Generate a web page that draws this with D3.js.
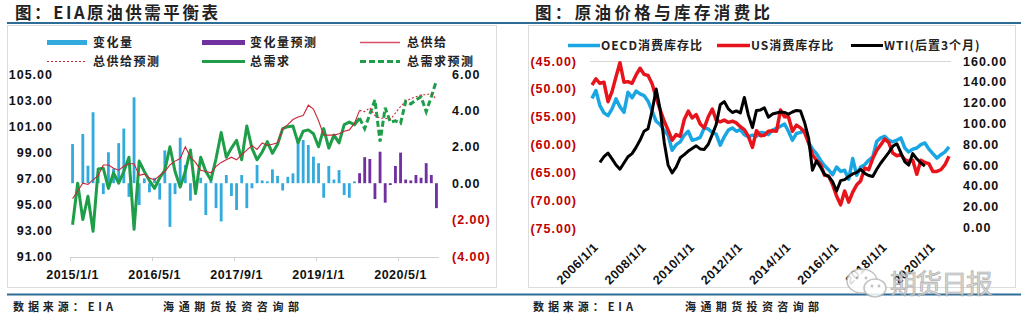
<!DOCTYPE html>
<html><head><meta charset="utf-8">
<script src="https://cdn.jsdelivr.net/npm/d3@7"></script>
<style>body{margin:0;background:#fff}svg{display:block}</style>
</head><body><svg id="c" width="1026" height="329"></svg>
<script>
// ---------- LEFT CHART DATA ----------
const months = [
"2015-01","2015-02","2015-03","2015-04","2015-05","2015-06","2015-07","2015-08","2015-09","2015-10","2015-11","2015-12",
"2016-01","2016-02","2016-03","2016-04","2016-05","2016-06","2016-07","2016-08","2016-09","2016-10","2016-11","2016-12",
"2017-01","2017-02","2017-03","2017-04","2017-05","2017-06","2017-07","2017-08","2017-09","2017-10","2017-11","2017-12",
"2018-01","2018-02","2018-03","2018-04","2018-05","2018-06","2018-07","2018-08","2018-09","2018-10","2018-11","2018-12",
"2019-01","2019-02","2019-03","2019-04","2019-05","2019-06","2019-07","2019-08","2019-09","2019-10","2019-11","2019-12",
"2020-01","2020-02","2020-03","2020-04","2020-05","2020-06","2020-07","2020-08","2020-09","2020-10","2020-11","2020-12"];
const forecastFrom = "2019-09";
const leftTickMonths = ["2015-01","2016-05","2017-09","2019-01","2020-05"];
const leftTickLabels = ["2015/1/1","2016/5/1","2017/9/1","2019/1/1","2020/5/1"];
const change = [
2.15,-0.4,2.7,0.96,3.9,0.5,-0.6,1.7,0.8,2.2,3.0,-0.75,
4.72,-1.2,0.26,-0.5,0.3,-0.9,1.8,-2.4,-0.6,2.5,1.0,-0.96,
-0.4,0.3,-1.75,0.2,-1.37,-2.1,0.45,-0.7,-1.47,0.45,-1.37,-0.28,
1.0,0.15,0.1,0.76,0.4,-0.4,0.35,0.54,2.28,2.37,2.1,1.46,
1.1,-0.8,0.95,0.2,0.72,-0.65,-0.8,0.1,0.55,1.43,1.33,-0.87,
1.73,-1.07,-0.1,0.95,1.68,0.2,0.15,0.45,0.3,1.1,0.45,-1.37];
const supply = [
95.4,96.0,96.6,96.5,96.85,97.2,98.0,98.0,97.75,97.6,97.9,98.1,
98.1,97.2,97.3,97.0,96.85,97.2,97.5,98.0,98.3,98.5,99.4,98.6,
98.2,97.6,97.5,97.4,97.9,98.2,98.4,98.6,98.4,98.8,99.15,99.5,
99.2,99.7,99.5,99.6,99.7,100.8,101.1,101.5,101.7,101.8,102.6,102.3,
101.4,100.3,100.3,100.3,100.4,100.6,100.7,101.2,102.2,102.1,102.4,101.8,
101.6,101.6,101.5,102.0,102.5,102.9,103.1,103.25,103.4,103.4,103.5,103.05];
const demand = [
93.4,96.6,93.8,95.6,92.9,97.7,97.75,96.2,97.4,96.6,97.5,98.6,
93.05,98.3,97.5,96.8,96.2,97.0,97.6,99.4,97.5,96.3,97.5,99.15,
95.8,98.6,97.5,96.85,98.5,100.5,98.6,99.3,99.9,98.4,101.0,99.3,
98.4,99.0,99.8,98.9,99.6,100.8,100.95,101.0,99.7,100.6,100.7,100.4,
99.4,100.8,99.3,100.3,99.7,101.1,101.3,101.1,101.6,100.8,101.9,103.0,
99.8,102.4,101.3,101.4,101.2,102.9,102.7,103.0,103.25,102.1,103.25,104.5];
const leftAxisTicks = [91,93,95,97,99,101,103,105];
const rightAxisTicks = [-4,-2,0,2,4,6];

// ---------- RIGHT CHART DATA ----------
const rDates = [
"2006-01","2006-03","2006-05","2006-07","2006-09","2006-11",
"2007-01","2007-03","2007-05","2007-07","2007-09","2007-11",
"2008-01","2008-03","2008-05","2008-07","2008-09","2008-11",
"2009-01","2009-03","2009-05","2009-07","2009-09","2009-11",
"2010-01","2010-03","2010-05","2010-07","2010-09","2010-11",
"2011-01","2011-03","2011-05","2011-07","2011-09","2011-11",
"2012-01","2012-03","2012-05","2012-07","2012-09","2012-11",
"2013-01","2013-03","2013-05","2013-07","2013-09","2013-11",
"2014-01","2014-03","2014-05","2014-07","2014-09","2014-11",
"2015-01","2015-03","2015-05","2015-07","2015-09","2015-11",
"2016-01","2016-03","2016-05","2016-07","2016-09","2016-11",
"2017-01","2017-03","2017-05","2017-07","2017-09","2017-11",
"2018-01","2018-03","2018-05","2018-07","2018-09","2018-11",
"2019-01","2019-03","2019-05","2019-07","2019-09","2019-11",
"2020-01","2020-03","2020-05","2020-07","2020-09","2020-11"];
const oecd = [
-51.7,-50.3,-53.0,-54.3,-54.8,-53.6,
-51.8,-53.2,-54.2,-50.6,-51.6,-50.4,
-50.9,-51.2,-52.2,-54.0,-55.8,-56.4,
-57.5,-58.3,-61.0,-60.0,-59.5,-58.3,
-57.6,-59.2,-59.0,-58.7,-57.0,-57.2,
-57.8,-58.1,-60.1,-58.6,-57.4,-57.0,
-57.6,-57.3,-58.2,-58.6,-58.3,-58.5,
-57.8,-57.9,-58.2,-57.4,-57.1,-56.7,
-56.3,-57.6,-59.2,-58.0,-57.8,-57.4,
-59.6,-60.8,-61.6,-62.8,-63.8,-64.5,
-65.4,-64.0,-64.8,-64.6,-66.2,-62.5,
-65.5,-64.0,-63.6,-62.8,-62.2,-59.4,
-58.8,-58.5,-59.2,-59.5,-59.2,-58.8,
-60.6,-61.3,-60.8,-60.6,-60.0,-59.7,
-60.8,-61.6,-62.4,-61.8,-61.3,-60.4];
const us = [
-49.3,-48.2,-49.0,-48.8,-52.3,-50.5,
-47.8,-45.3,-48.8,-48.7,-49.0,-47.5,
-46.3,-47.4,-47.6,-49.1,-51.6,-53.8,
-55.8,-57.4,-59.2,-58.2,-58.5,-55.5,
-54.0,-55.2,-54.6,-56.3,-57.0,-55.0,
-53.6,-55.6,-55.9,-55.6,-56.0,-55.8,
-56.1,-56.8,-57.3,-58.5,-60.5,-57.5,
-58.4,-58.3,-57.6,-57.5,-57.6,-53.8,
-55.0,-55.0,-57.6,-56.5,-57.0,-57.8,
-59.7,-61.8,-62.8,-63.5,-65.5,-65.6,
-67.2,-69.2,-70.8,-68.3,-70.3,-68.5,
-67.2,-66.5,-64.2,-64.5,-62.5,-61.0,
-60.0,-59.0,-59.6,-61.5,-62.0,-61.8,
-62.7,-63.0,-62.8,-65.3,-62.8,-63.2,
-63.4,-64.8,-64.8,-64.5,-63.6,-62.1];
const wti = [
null,null,62.5,68,71.5,66,
60,56,62,68,71,77,
84,92.5,95,112,133,113,
82,60,52.5,58,67,70,
73.5,76,78.5,75.5,75,80,
89.5,99,118,121,114,110.5,
112,110,125,108,96,112.5,
113,115,106,109,110,111,
110.5,109,111,112.5,112,101,
86,55,64,58,51,49,
44,35,45,46,49,51.5,
53,56,52,50,49,56,
62,67,72,78,80.5,72,
63,60,71,66,62,59,
null,null,null,null,null,null];
const rLeftTicks = [-75,-70,-65,-60,-55,-50,-45];
const rRightTicks = [0,20,40,60,80,100,120,140,160];
const rXTicks = ["2006-01","2008-01","2010-01","2012-01","2014-01","2016-01","2018-01","2020-01"];

// ---------- DRAW ----------
const svg = d3.select("#c");
const CJK = "'Noto Sans CJK SC','Noto Sans',sans-serif";
const NUM = "'Liberation Sans',Arial,sans-serif";
const RED = "#C00000";
svg.append("rect").attr("width",1026).attr("height",329).attr("fill","#fff");

// frames
svg.append("rect").attr("x",7.5).attr("y",25.5).attr("width",489).attr("height",262)
  .attr("fill","#fff").attr("stroke","#DCDCDC");
svg.append("rect").attr("x",528.5).attr("y",25.5).attr("width",487).attr("height",262)
  .attr("fill","#fff").attr("stroke","#DCDCDC");
// rules
const ruleC = "#2E6C98";
svg.append("line").attr("x1",7).attr("x2",1021).attr("y1",23).attr("y2",23).attr("stroke",ruleC).attr("stroke-width",2.2);
svg.append("line").attr("x1",7).attr("x2",1021).attr("y1",294.5).attr("y2",294.5).attr("stroke",ruleC).attr("stroke-width",2.2);

// titles
svg.append("text").attr("x",15).attr("y",19).attr("font-family",CJK).attr("font-weight","bold")
  .attr("font-size",16.5).attr("fill","#222").attr("textLength",203).attr("lengthAdjust","spacing")
  .text("图：EIA原油供需平衡表");
svg.append("text").attr("x",535).attr("y",19).attr("font-family",CJK).attr("font-weight","bold")
  .attr("font-size",16.5).attr("fill","#222").attr("textLength",235).attr("lengthAdjust","spacing")
  .text("图：原油价格与库存消费比");
// footers
[[13,100,"数据来源：EIA"],[163,136,"海通期货投资咨询部"],[533,100,"数据来源：EIA"],[685,134,"海通期货投资咨询部"]]
 .forEach(([x,w,t])=>{
  svg.append("text").attr("x",x).attr("y",310.5).attr("font-family",CJK).attr("font-weight","bold")
   .attr("font-size",11).attr("fill","#222").attr("textLength",w).attr("lengthAdjust","spacing").text(t);
 });

// ===== LEFT CHART =====
const xL = d3.scaleBand().domain(months).range([70,439]).padding(0);
const yL = d3.scaleLinear().domain([91,105]).range([256,74]);
const yR = d3.scaleLinear().domain([-4,6]).range([256,74]);
const cx = m => xL(m) + xL.bandwidth()/2;
const fIdx = months.indexOf(forecastFrom);

// x axis line + ticks
svg.append("line").attr("x1",70).attr("x2",439).attr("y1",257.5).attr("y2",257.5).attr("stroke","#D0D0D0");
leftTickMonths.forEach((m,i)=>{
  svg.append("line").attr("x1",xL(m)+0.5).attr("x2",xL(m)+0.5).attr("y1",257).attr("y2",261).attr("stroke","#D0D0D0");
  svg.append("text").attr("x",cx(m)).attr("y",278.5).attr("text-anchor","middle")
    .attr("font-family",NUM).attr("font-weight","bold").attr("font-size",12.5).attr("letter-spacing",0.5)
    .attr("fill","#111").text(leftTickLabels[i]);
});
// left axis
const gLA = svg.append("g").attr("transform","translate(53,0)")
  .call(d3.axisLeft(yL).tickValues(leftAxisTicks).tickSize(0).tickPadding(0).tickFormat(d3.format(".2f")));
gLA.select(".domain").remove();
gLA.selectAll("text").attr("font-family",NUM).attr("font-weight","bold").attr("font-size",12.5)
  .attr("letter-spacing",1).attr("fill","#111");
// right axis
const fmtR = v => v<0 ? "("+d3.format(".2f")(-v)+")" : d3.format(".2f")(v);
const gRA = svg.append("g").attr("transform","translate(452,0)")
  .call(d3.axisRight(yR).tickValues(rightAxisTicks).tickSize(0).tickPadding(0).tickFormat(fmtR));
gRA.select(".domain").remove();
gRA.selectAll("text").attr("font-family",NUM).attr("font-weight","bold").attr("font-size",12.5)
  .attr("letter-spacing",1).attr("fill",d=>d<0?RED:"#111");

// bars
const bw = xL.bandwidth()*0.55;
svg.append("g").selectAll("rect").data(change.map((v,i)=>({m:months[i],v,i})))
  .join("rect")
  .attr("x",d=>cx(d.m)-bw/2).attr("width",bw)
  .attr("y",d=>yR(Math.max(0,d.v))).attr("height",d=>Math.abs(yR(d.v)-yR(0)))
  .attr("fill",d=>d.i>=fIdx?"#7030A0":"#33AADD");

const lineL = d3.line().defined(d=>d.v!=null).x(d=>cx(d.m)).y(d=>yL(d.v));
const sA = supply.map((v,i)=>({m:months[i],v:i<=fIdx?v:null}));
const sF = supply.map((v,i)=>({m:months[i],v:i>=fIdx?v:null}));
const dA = demand.map((v,i)=>({m:months[i],v:i<=fIdx?v:null}));
const dF = demand.map((v,i)=>({m:months[i],v:i>=fIdx?v:null}));
svg.append("path").datum(dA).attr("d",lineL).attr("fill","none").attr("stroke","#1E9E48").attr("stroke-width",3).attr("stroke-linejoin","round");
svg.append("path").datum(dF).attr("d",lineL).attr("fill","none").attr("stroke","#1E9E48").attr("stroke-width",3).attr("stroke-dasharray","6,3");
svg.append("path").datum(sA).attr("d",lineL).attr("fill","none").attr("stroke","#C8263A").attr("stroke-width",1.1);
svg.append("path").datum(sF).attr("d",lineL).attr("fill","none").attr("stroke","#C8263A").attr("stroke-width",1.1).attr("stroke-dasharray","2,2");

// left legend
function legText(x,y,t){
  svg.append("text").attr("x",x).attr("y",y).attr("dy","0.35em").attr("font-family",CJK).attr("font-weight","bold")
   .attr("font-size",12).attr("letter-spacing",1.5).attr("fill","#222").text(t);
}
svg.append("rect").attr("x",47).attr("y",40).attr("width",40).attr("height",5).attr("fill","#33AADD");
legText(93,42.5,"变化量");
svg.append("rect").attr("x",202).attr("y",40).attr("width",43).attr("height",5).attr("fill","#7030A0");
legText(250,42.5,"变化量预测");
svg.append("line").attr("x1",360).attr("x2",400).attr("y1",42.5).attr("y2",42.5).attr("stroke","#D8506A").attr("stroke-width",1.5);
legText(407,42.5,"总供给");
svg.append("line").attr("x1",47).attr("x2",87).attr("y1",61.5).attr("y2",61.5).attr("stroke","#C8263A").attr("stroke-width",1.2).attr("stroke-dasharray","2,2");
legText(93,61.5,"总供给预测");
svg.append("line").attr("x1",202).attr("x2",245).attr("y1",61.5).attr("y2",61.5).attr("stroke","#1E9E48").attr("stroke-width",3);
legText(250,61.5,"总需求");
svg.append("line").attr("x1",360).attr("x2",400).attr("y1",61.5).attr("y2",61.5).attr("stroke","#1E9E48").attr("stroke-width",3).attr("stroke-dasharray","6,3");
legText(407,61.5,"总需求预测");

// ===== RIGHT CHART =====
const parse = d3.timeParse("%Y-%m");
const xT = d3.scaleTime().domain([parse("2006-01"),parse("2020-11")]).range([592,949]);
const yLR = d3.scaleLinear().domain([-75,-45]).range([228.3,61]);
const yRR = d3.scaleLinear().domain([0,160]).range([227.5,61]);

svg.append("line").attr("x1",590).attr("x2",951).attr("y1",61.5).attr("y2",61.5).attr("stroke","#D6D6D6");

const gL2 = svg.append("g").attr("transform","translate(577,0)")
  .call(d3.axisLeft(yLR).tickValues(rLeftTicks).tickSize(0).tickPadding(0).tickFormat(fmtR));
gL2.select(".domain").remove();
gL2.selectAll("text").attr("font-family",NUM).attr("font-weight","bold").attr("font-size",12.5)
  .attr("letter-spacing",1).attr("fill",RED);
const gR2 = svg.append("g").attr("transform","translate(963,0)")
  .call(d3.axisRight(yRR).tickValues(rRightTicks).tickSize(0).tickPadding(0).tickFormat(d3.format(".2f")));
gR2.select(".domain").remove();
gR2.selectAll("text").attr("font-family",NUM).attr("font-weight","bold").attr("font-size",12.5)
  .attr("letter-spacing",1).attr("fill","#111");

rXTicks.forEach(s=>{
  const d = parse(s);
  const x = xT(d);
  svg.append("text").attr("transform",`translate(${x+7},248) rotate(-45)`).attr("text-anchor","end")
    .attr("font-family",NUM).attr("font-weight","bold").attr("font-size",12.5).attr("letter-spacing",0.5)
    .attr("fill","#111").text(d3.timeFormat("%Y/%-m/%-d")(d));
});

const lineLR = d3.line().defined(d=>d.v!=null).x(d=>xT(d.d)).y(d=>yLR(d.v));
const lineRR = d3.line().defined(d=>d.v!=null).x(d=>xT(d.d)).y(d=>yRR(d.v));
svg.append("path").datum(oecd.map((v,i)=>({d:parse(rDates[i]),v}))).attr("d",lineLR)
  .attr("fill","none").attr("stroke","#1AA6E2").attr("stroke-width",3.5).attr("stroke-linejoin","round");
svg.append("path").datum(us.map((v,i)=>({d:parse(rDates[i]),v}))).attr("d",lineLR)
  .attr("fill","none").attr("stroke","#E8141B").attr("stroke-width",3.5).attr("stroke-linejoin","round");
svg.append("path").datum(wti.map((v,i)=>({d:parse(rDates[i]),v}))).attr("d",lineRR)
  .attr("fill","none").attr("stroke","#000").attr("stroke-width",3).attr("stroke-linejoin","round");

// right legend
function legText2(x,y,t){
  svg.append("text").attr("x",x).attr("y",y).attr("dy","0.35em").attr("font-family",CJK).attr("font-weight","bold")
   .attr("font-size",12).attr("letter-spacing",1).attr("fill","#222").text(t);
}
svg.append("line").attr("x1",568).attr("x2",600).attr("y1",45.5).attr("y2",45.5).attr("stroke","#1AA6E2").attr("stroke-width",3.5);
legText2(601,45.5,"OECD消费库存比");
svg.append("line").attr("x1",717).attr("x2",750).attr("y1",45.5).attr("y2",45.5).attr("stroke","#E8141B").attr("stroke-width",3.5);
legText2(751,45.5,"US消费库存比");
svg.append("line").attr("x1",851).attr("x2",883).attr("y1",45.5).attr("y2",45.5).attr("stroke","#000").attr("stroke-width",3);
legText2(884,45.5,"WTI(后置3个月)");

// watermark
const wm = svg.append("g").attr("opacity",0.85);
wm.append("ellipse").attr("cx",862).attr("cy",281).attr("rx",15).attr("ry",12).attr("fill","#fff").attr("stroke","#B8B8B8").attr("stroke-width",1.5);
wm.append("ellipse").attr("cx",875).attr("cy",288).attr("rx",11).attr("ry",9).attr("fill","#fff").attr("stroke","#B8B8B8").attr("stroke-width",1.5);
[[857,278],[866,278],[872,286],[879,286]].forEach(([x,y])=>wm.append("circle").attr("cx",x).attr("cy",y).attr("r",1.4).attr("fill","#B8B8B8"));
wm.append("text").attr("x",890).attr("y",294).attr("font-family",CJK).attr("font-size",27)
  .attr("fill","#D2D2D2").attr("stroke","#9A9A9A").attr("stroke-width",0.6).attr("textLength",103).text("期货日报");
</script></body></html>
